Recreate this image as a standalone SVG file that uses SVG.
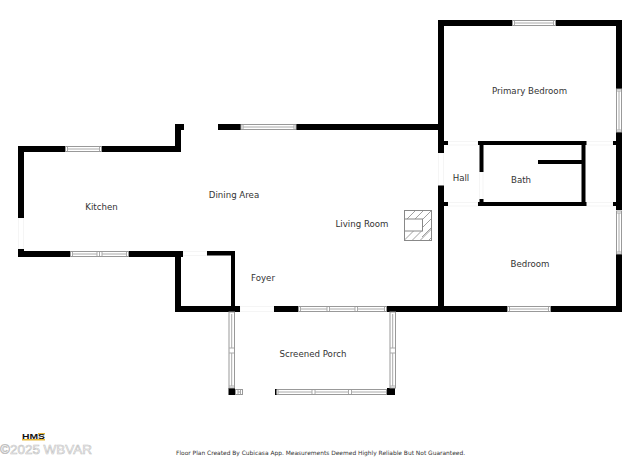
<svg xmlns="http://www.w3.org/2000/svg" width="640" height="460" viewBox="0 0 640 460">
<style>
.w{fill:#000}
.g{fill:#fff;stroke:#f5f5f5;stroke-width:1}
.win{fill:#fff;stroke:#999;stroke-width:1}
.pane{fill:none;stroke:#aaa;stroke-width:1}
.t{font-family:"DejaVu Sans",Verdana,sans-serif;font-size:8.65px;fill:#333;text-anchor:middle}
.f{font-family:"DejaVu Sans",Verdana,sans-serif;font-size:5.92px;fill:#333}
.h{stroke:#888;stroke-width:.8;fill:none}
</style>
<rect width="640" height="460" fill="#fff"/>
<g id="connectors">
<g id="openings">
<rect class="g" x="18.5" y="218" width="5" height="31"/>
<rect class="g" x="183" y="251.5" width="24" height="4"/>
<rect class="g" x="240" y="306.5" width="34" height="5"/>
<rect class="g" x="448" y="141.5" width="30" height="3.5"/>
<rect class="g" x="448" y="202.5" width="30" height="3.5"/>
<rect class="g" x="586" y="141.5" width="27" height="3.5"/>
<rect class="g" x="586" y="202.5" width="27" height="3.5"/>
<rect class="g" x="438.5" y="153" width="5" height="32.500"/>
<rect class="g" x="479.500" y="172" width="3.500" height="28"/>
</g>
<g id="walls">
<rect class="w" x="18" y="146" width="163" height="6"/>
<rect class="w" x="18" y="146" width="6" height="72"/>
<rect class="w" x="18" y="249" width="6" height="8"/>
<rect class="w" x="18" y="251" width="165" height="6"/>
<rect class="w" x="175" y="124" width="6" height="28"/>
<rect class="w" x="175" y="124" width="9" height="6"/>
<rect class="w" x="218" y="124" width="223" height="6"/>
<rect class="w" x="175" y="251" width="6" height="61"/>
<rect class="w" x="207" y="251" width="28" height="4.500"/>
<rect class="w" x="231" y="251" width="4" height="60"/>
<rect class="w" x="175" y="306" width="65" height="6"/>
<rect class="w" x="274" y="306" width="348" height="6"/>
<rect class="w" x="438" y="20" width="184" height="6"/>
<rect class="w" x="438" y="20" width="6" height="133"/>
<rect class="w" x="438" y="185.500" width="6" height="126"/>
<rect class="w" x="616" y="20" width="6" height="69"/>
<rect class="w" x="616" y="132" width="6" height="78"/>
<rect class="w" x="616" y="254" width="6" height="58"/>
<rect class="w" x="438" y="141" width="10" height="4"/>
<rect class="w" x="438" y="202" width="10" height="4"/>
<rect class="w" x="613" y="141" width="9" height="4"/>
<rect class="w" x="613" y="202" width="9" height="4"/>
<rect class="w" x="478" y="141" width="108.500" height="4"/>
<rect class="w" x="478" y="202" width="108.500" height="4"/>
<rect class="w" x="479.500" y="141" width="4" height="31"/>
<rect class="w" x="479.500" y="199" width="4" height="7"/>
<rect class="w" x="581.500" y="141" width="4" height="65"/>
<rect class="w" x="538" y="160" width="44" height="4"/>
<rect class="w" x="228.500" y="388" width="6.500" height="7"/>
<rect class="w" x="387" y="388" width="8" height="7"/>
</g>
<g id="windows">
<rect class="win" x="65.500" y="146.500" width="36" height="5"/><path class="pane" d="M67.500 147v4M99.500 147v4M68 149h31"/>
<rect class="win" x="70.500" y="251.500" width="58" height="5"/><path class="pane" d="M72.500 252v4M97 252v4M99.500 252v4M102 252v4M126.500 252v4M73 254h24M102 254h24"/>
<rect class="win" x="241" y="124.500" width="55" height="5"/><path class="pane" d="M243 125v4M294 125v4M243 127h51"/>
<rect class="win" x="512.500" y="20.500" width="43" height="5"/><path class="pane" d="M514.500 21v4M553.500 21v4M515 23h38"/>
<rect class="win" x="616.500" y="89" width="5" height="43"/><path class="pane" d="M617 91h4M617 130h4M619 91v39"/>
<rect class="win" x="616.500" y="211" width="5" height="43"/><path class="pane" d="M617 213h4M617 252h4M619 213v39"/>
<rect class="win" x="507.500" y="306.500" width="43" height="5"/><path class="pane" d="M509.500 307v4M548.500 307v4M510 309h38"/>
<rect class="win" x="298.500" y="306.500" width="88" height="5"/><path class="pane" d="M300.500 307v4M327 307v4M329.500 307v4M355 307v4M357.500 307v4M384.500 307v4M301 309h26M330 309h25M358 309h26"/>
<rect class="win" x="229" y="312" width="5.500" height="76"/><path class="pane" d="M231.700 314v34M231.700 353v33M229 348h5M229 353h5M229 386h5"/>
<rect class="win" x="390" y="312" width="5.500" height="76"/><path class="pane" d="M392.700 314v34M392.700 353v33M390 348h5M390 353h5M390 386h5"/>
<rect class="win" x="275.500" y="389.500" width="111" height="5"/><path class="pane" d="M278 390v4M312 390v4M315 390v4M348.500 390v4M351.500 390v4M278 392h34M315 392h33M352 392h34"/>
<rect class="w" x="275" y="389" width="1.500" height="6"/>
<rect class="win" x="235.500" y="389.500" width="7" height="5"/><path class="pane" d="M238 390v4M240.500 390v4M238 392h2.500"/>
</g>
</g>
<g id="fireplace">
<rect x="404.500" y="210.500" width="27" height="30" fill="#fff" stroke="#888"/>
<path class="h" d="M407 219l9-9M415 219l9-9M423 219l8.500-8.500M422 228l9.500-9.500M422 237l9.500-9.500M404.500 240l9-9M412.500 240l9-9M420.500 240l11-11M429 240l2.500-2.500"/>
<rect x="404.500" y="219" width="18" height="12" fill="#fff" stroke="#888"/>
</g>
<g id="kitchen"><text class="t" x="101.500" y="209.500">Kitchen</text></g>
<g id="dining-area"><text class="t" x="234" y="197.500">Dining Area</text></g>
<g id="living-room"><text class="t" x="362" y="226.500">Living Room</text></g>
<g id="foyer"><text class="t" x="263" y="281">Foyer</text></g>
<g id="primary-bedroom"><text class="t" x="529.500" y="94">Primary Bedroom</text></g>
<g id="hall"><text class="t" x="461" y="180.500">Hall</text></g>
<g id="bath"><text class="t" x="521" y="183">Bath</text></g>
<g id="bedroom"><text class="t" x="530" y="266.500">Bedroom</text></g>
<g id="screened-porch"><text class="t" x="313" y="357">Screened Porch</text></g>
<g id="credit"><text class="f" x="176" y="455">Floor Plan Created By Cubicasa App. Measurements Deemed Highly Reliable But Not Guaranteed.</text></g>
<g id="watermark">
<rect x="22" y="439" width="23" height="1.500" fill="#e8b93a"/>
<rect x="38" y="433" width="7" height="1.500" fill="#e8b93a"/>
<text x="22" y="439" font-family="Liberation Sans,sans-serif" font-size="8" font-weight="700" fill="#111" textLength="23" lengthAdjust="spacingAndGlyphs">HMS</text>
<text x="0" y="453.500" font-family="Liberation Sans,sans-serif" font-size="13" fill="#fff" stroke="#c0c0c0" stroke-width=".6" textLength="92" lengthAdjust="spacingAndGlyphs">©2025 WBVAR</text>
</g>
</svg>
